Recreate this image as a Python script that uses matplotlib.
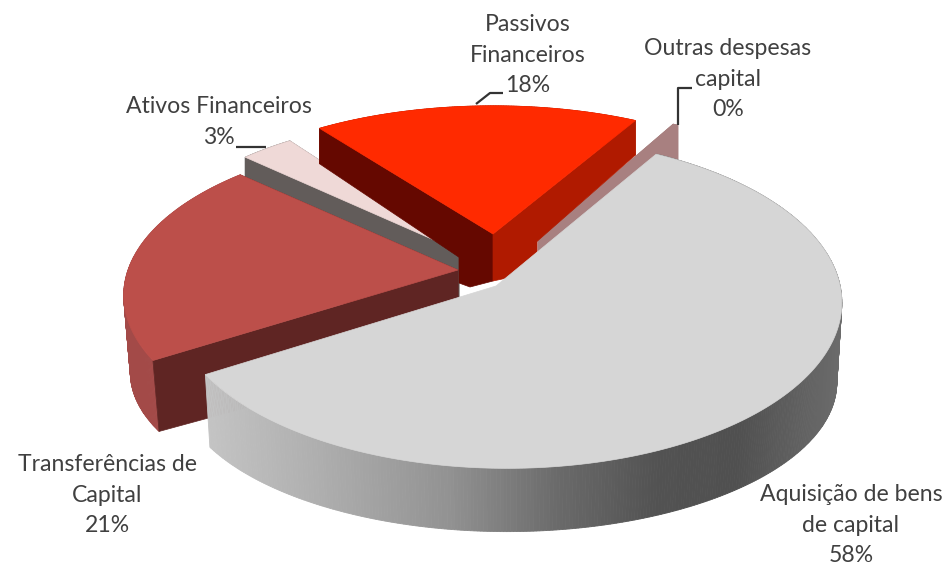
import numpy as np
import matplotlib
matplotlib.use("Agg")
import matplotlib.pyplot as plt
from matplotlib.patches import Polygon

# data, clockwise from the aquisicao slice
labels = ["Aquisição de bens\nde capital\n58%", "Transferências de\nCapital\n21%",
          "Ativos Financeiros\n3%", "Passivos\nFinanceiros\n18%", "Outras despesas\ncapital\n0%"]
shares = [57.7, 20.9, 3.1, 18.0, 0.3]

start_angle = 30.0

# centre x, centre y, radius x, radius y, depth, depth shrink, shrink x, perspective
geometry = [
    (507, 281, 332, 163, 82, -0.10, 0.985, 0.13),
    (458, 270, 330, 155, 80, -0.10, 0.98, 0.16),
    (459, 251, 312, 147, 46, 0.10, 1.0, 0.10),
    (493, 234, 320, 141, 46, 0.10, 1.0, 0.10),
    (538, 240, 304, 144, 40, 0.05, 1.0, 0.10),
]
# where the top face comes to a point, differs from the centre on the big slice
tips = [(496, 286), (458, 270), (459, 251), (493, 234), (538, 240)]

top_colors = ["#D6D6D6", "#BC4F4A", "#EFD9D7", "#FF2A00", "#A88080"]
start_wall = [None, "#5F2523", "#625C5A", "#650800", "#A88080"]
end_wall = [None, "#5F2523", "#625C5A", "#B01A00", "#A88080"]
outer_wall = ["gradient", "#A34A48", "#625C5A", "#B01A00", "#A88080"]

# outer wall shading of the big slice, left to right
grad_x = [205, 330, 450, 560, 660, 740, 845]
grad_v = [196, 172, 146, 106, 82, 80, 108]

label_pos = [(851, 525), (107, 495), (219, 122), (528, 55), (728, 79)]

leaders = [
    ([236, 266], [147, 147]),
    ([476, 490, 503], [104, 93, 93]),
    ([678, 678, 692], [125, 88, 88]),
]

# the red slice's walls run on a bit under the apex
red_wall_fill = [
    ("#650800", [(459, 255), (459, 283), (470, 287), (493, 281), (493, 240)]),
    ("#B01A00", [(493, 240), (493, 281), (507, 278), (537, 252), (537, 220)]),
]


def top_point(g, a):
    cx, cy, rx, ry = g[:4]
    u = np.sin(np.radians(a))
    v = -np.cos(np.radians(a))
    w = 1 - g[7] * v
    return cx + rx * u / w, cy + ry * v / w


def bottom_point(g, x, y):
    cx, cy = g[:2]
    d, t, sx = g[4:7]
    return cx + sx * (x - cx), y + d + t * (y - cy)


def arc(g, a0, a1):
    n = max(int(abs(a1 - a0) * 2), 2)
    xs, ys = top_point(g, np.linspace(a0, a1, n))
    return np.array(xs), np.array(ys)


def wall_color(x):
    c = np.interp(x, grad_x, grad_v) / 255
    return (c, c, c)


fig = plt.figure(figsize=(9.47, 5.65), dpi=100)
ax = fig.add_axes([0, 0, 1, 1])
ax.set_xlim(0, 947)
ax.set_ylim(565, 0)
ax.axis("off")

edges = start_angle + np.concatenate([[0], np.cumsum(shares)]) * 3.6
draw_order = [4, 2, 3, 1, 0]

for i in draw_order:
    g = geometry[i]
    a0, a1 = edges[i], edges[i + 1]
    xs, ys = arc(g, a0, a1)
    bx, by = bottom_point(g, xs, ys)
    tip = tips[i]
    tip_b = bottom_point(g, tip[0], tip[1])
    z = 2 + draw_order.index(i) * 3
    # outer wall
    for j in range(len(xs) - 1):
        pts = [(xs[j], ys[j]), (xs[j + 1], ys[j + 1]), (bx[j + 1], by[j + 1]), (bx[j], by[j])]
        col = wall_color(xs[j]) if outer_wall[i] == "gradient" else outer_wall[i]
        ax.add_patch(Polygon(pts, closed=True, fc=col, ec=col, lw=0.6, zorder=z))
    # radial walls
    for k, col in ((0, start_wall[i]), (-1, end_wall[i])):
        if col is None:
            continue
        pts = [tip, (xs[k], ys[k]), (bx[k], by[k]), tip_b]
        ax.add_patch(Polygon(pts, closed=True, fc=col, ec=col, lw=0.5, zorder=z))
    if i == 3:
        for col, pts in red_wall_fill:
            ax.add_patch(Polygon(pts, closed=True, fc=col, ec=col, lw=0.5, zorder=z))
    # top face
    ax.add_patch(Polygon(np.vstack([[tip], np.column_stack([xs, ys])]), closed=True,
                         fc=top_colors[i], ec=top_colors[i], lw=0.5, zorder=z + 1))

for lx, ly in leaders:
    ax.plot(lx, ly, color="#333333", lw=1.6, zorder=30, solid_capstyle="butt")

for text, (x, y) in zip(labels, label_pos):
    ax.text(x, y, text, ha="center", va="center", ma="center", fontsize=16.6,
            family="Lato", color="#404040", linespacing=1.55, zorder=40)

fig.savefig("out.png", dpi=100)
